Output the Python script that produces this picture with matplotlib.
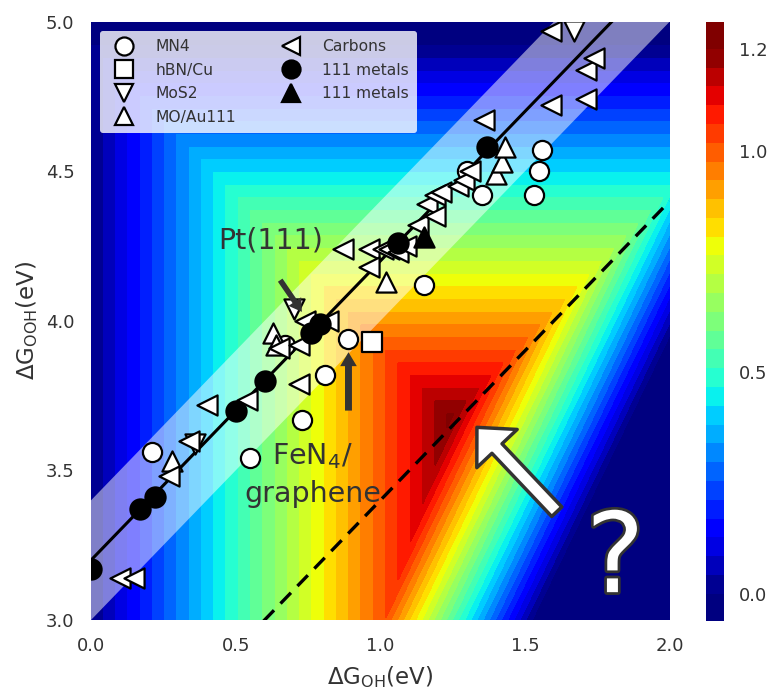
import numpy as np
import matplotlib
matplotlib.use('Agg')
import matplotlib.pyplot as plt
import matplotlib.patheffects as pe
from matplotlib.lines import Line2D

plt.rcParams['font.family'] = ['DejaVu Sans']
plt.rcParams['mathtext.default'] = 'regular'

# ---- model for the limiting potential surface (ORR, dG_O scaled to dG_OH) ----
E_TOTAL = 4.92
O_OFFSET = 0.05          # dG_O = 2 dG_OH - O_OFFSET
OH_LIM = (0.0, 2.0)
OOH_LIM = (3.0, 5.0)
levels = np.linspace(0.0, 1.23, 30)
cbar_ticks = [0.0, 0.5, 1.0, 1.23]
cbar_ticklabels = ['0.0', '0.5', '1.0', '1.2']

# scaling relation line and its band, and the dashed line
scaling_intercept = 3.2
band_halfwidth = 0.2
dashed_intercept = 2.4

# ---- data points (dG_OH, dG_OOH) ----
mn4_oh = [0.21, 0.55, 0.67, 0.73, 0.81, 0.89, 1.15, 1.30, 1.35, 1.53, 1.55, 1.56]
mn4_ooh = [3.56, 3.54, 3.92, 3.67, 3.82, 3.94, 4.12, 4.50, 4.42, 4.42, 4.50, 4.57]

hbn_oh = [0.97]
hbn_ooh = [3.93]

mos2_oh = [0.36, 0.70, 1.67]
mos2_ooh = [3.59, 4.04, 4.97]

moau_oh = [0.28, 0.63, 0.64, 1.02, 1.40, 1.42, 1.43]
moau_ooh = [3.53, 3.96, 3.92, 4.13, 4.49, 4.53, 4.58]

carb_oh = [0.10, 0.15, 0.27, 0.34, 0.40, 0.54, 0.65, 0.72, 0.72, 0.74, 0.82,
           0.87, 0.96, 1.01, 0.96, 1.03, 1.06, 1.09, 1.13, 1.16, 1.19, 1.19,
           1.21, 1.27, 1.29, 1.31, 1.36, 1.59, 1.71, 1.71, 1.74, 1.59]
carb_ooh = [3.14, 3.14, 3.48, 3.60, 3.72, 3.735, 3.91, 3.79, 3.92, 4.00, 4.00,
            4.24, 4.24, 4.24, 4.18, 4.24, 4.23, 4.25, 4.32, 4.39, 4.35, 4.42,
            4.43, 4.45, 4.47, 4.50, 4.67, 4.72, 4.74, 4.84, 4.88, 4.97]

met_oh = [0.0, 0.17, 0.22, 0.50, 0.60, 0.76, 0.79, 1.06, 1.37]
met_ooh = [3.17, 3.37, 3.41, 3.70, 3.80, 3.96, 3.99, 4.26, 4.58]

mettri_oh = [1.15]
mettri_ooh = [4.28]

TXT = '#333333'

fig = plt.figure(figsize=(7.75, 6.9), dpi=100)
ax = fig.add_axes([91/775, 1-620/690, 578.6/775, 598.3/690])

oh = np.linspace(OH_LIM[0], OH_LIM[1], 801)
ooh = np.linspace(OOH_LIM[0], OOH_LIM[1], 801)
OH, OOH = np.meshgrid(oh, ooh)
UL = np.minimum.reduce([OH, E_TOTAL - OOH, OOH - 2*OH + O_OFFSET])

cs = ax.contourf(OH, OOH, UL, levels=levels, cmap='jet', extend='both', zorder=0)

xl = np.array(OH_LIM)
ax.fill_between(xl, xl + scaling_intercept - band_halfwidth, xl + scaling_intercept + band_halfwidth,
                color='white', alpha=0.5, lw=0, zorder=1)
ax.plot(xl, xl + scaling_intercept, color='black', lw=2.2, zorder=2)
ax.plot(xl, xl + dashed_intercept, color='black', lw=2.4, ls=(0, (4.5, 2.8)), zorder=2)

ms_c = 190
ms_t = 210
mk = dict(edgecolors='black', linewidths=1.6, zorder=4)
ax.scatter(mn4_oh, mn4_ooh, marker='o', s=ms_c, facecolors='white', **mk)
ax.scatter(hbn_oh, hbn_ooh, marker='s', s=ms_c, facecolors='white', **mk)
ax.scatter(mos2_oh, mos2_ooh, marker='v', s=ms_t, facecolors='white', **mk)
ax.scatter(moau_oh, moau_ooh, marker='^', s=ms_t, facecolors='white', **mk)
ax.scatter(carb_oh, carb_ooh, marker='<', s=ms_t, facecolors='white', **mk)
ax.scatter(met_oh, met_ooh, marker='o', s=210, facecolors='black', **mk)
ax.scatter(mettri_oh, mettri_ooh, marker='^', s=ms_t, facecolors='black', **mk)

ax.set_xlim(*OH_LIM)
ax.set_ylim(*OOH_LIM)
ax.set_xticks([0.0, 0.5, 1.0, 1.5, 2.0])
ax.set_yticks([3.0, 3.5, 4.0, 4.5, 5.0])
ax.xaxis.set_major_formatter(matplotlib.ticker.FormatStrFormatter('%.1f'))
ax.yaxis.set_major_formatter(matplotlib.ticker.FormatStrFormatter('%.1f'))
ax.tick_params(length=0, labelsize=13, colors=TXT)
ax.tick_params(axis='x', pad=12)
ax.tick_params(axis='y', pad=12)
for s in ax.spines.values():
    s.set_visible(False)
ax.set_xlabel('ΔG$_{OH}$(eV)', fontsize=16.5, color=TXT, labelpad=7)
ax.set_ylabel('ΔG$_{OOH}$(eV)', fontsize=16.5, color=TXT, labelpad=4)

# legend
lk = dict(ls='none', mec='black', ms=13, mew=1.6)
handles = [
    Line2D([], [], marker='o', mfc='white', **lk),
    Line2D([], [], marker='s', mfc='white', **lk),
    Line2D([], [], marker='v', mfc='white', **lk),
    Line2D([], [], marker='^', mfc='white', **lk),
    Line2D([], [], marker='<', mfc='white', **lk),
    Line2D([], [], marker='o', mfc='black', **lk),
    Line2D([], [], marker='^', mfc='black', **lk),
]
labels = ['MN4', 'hBN/Cu', 'MoS2', 'MO/Au111', 'Carbons', '111 metals', '111 metals']
leg = ax.legend(handles, labels, ncol=2, loc='upper left', bbox_to_anchor=(0.016, 0.985),
                borderaxespad=0, fontsize=11.2, frameon=True, framealpha=0.8,
                facecolor='white', edgecolor='none', labelspacing=0.55,
                handletextpad=1.0, columnspacing=2.5, borderpad=0.55, fancybox=True)
for t in leg.get_texts():
    t.set_color(TXT)
leg.set_zorder(6)

# annotations
ax.text(0.62, 4.27, 'Pt(111)', fontsize=20.5, color=TXT, ha='center', va='center', zorder=5)
ax.annotate('', xy=(0.729, 4.030), xytext=(0.654, 4.136),
            arrowprops=dict(arrowstyle='simple,head_length=9,head_width=11,tail_width=4',
                            mutation_scale=1, fc=TXT, ec='none', shrinkA=0, shrinkB=0), zorder=5)
ax.text(0.765, 3.485, 'FeN$_4$/\ngraphene', fontsize=20.5, color=TXT, ha='center', va='center',
        multialignment='center', linespacing=1.4, zorder=5)
ax.annotate('', xy=(0.89, 3.895), xytext=(0.89, 3.70),
            arrowprops=dict(arrowstyle='simple,head_length=10,head_width=12,tail_width=5',
                            mutation_scale=1, fc=TXT, ec='none', shrinkA=0, shrinkB=0), zorder=5)
ax.annotate('', xy=(1.334, 3.644), xytext=(1.61, 3.362),
            arrowprops=dict(arrowstyle='simple,head_length=21,head_width=40,tail_width=10',
                            mutation_scale=1, fc='white', ec=TXT, lw=2.5, shrinkA=0, shrinkB=0),
            zorder=5)
q = ax.text(1.812, 3.195, '?', fontsize=80, color='white', ha='center', va='center', zorder=5)
q.set_path_effects([pe.Stroke(linewidth=4, foreground=TXT), pe.Normal()])

# colorbar
cax = fig.add_axes([706/775, 1-621/690, 18/775, 599.5/690])
cb = fig.colorbar(cs, cax=cax, extendrect=True, ticks=cbar_ticks)
cb.ax.set_yticklabels(cbar_ticklabels)
cb.outline.set_visible(False)
cb.ax.tick_params(length=0, labelsize=13, colors=TXT, pad=11)

fig.savefig('out.png', dpi=100)
